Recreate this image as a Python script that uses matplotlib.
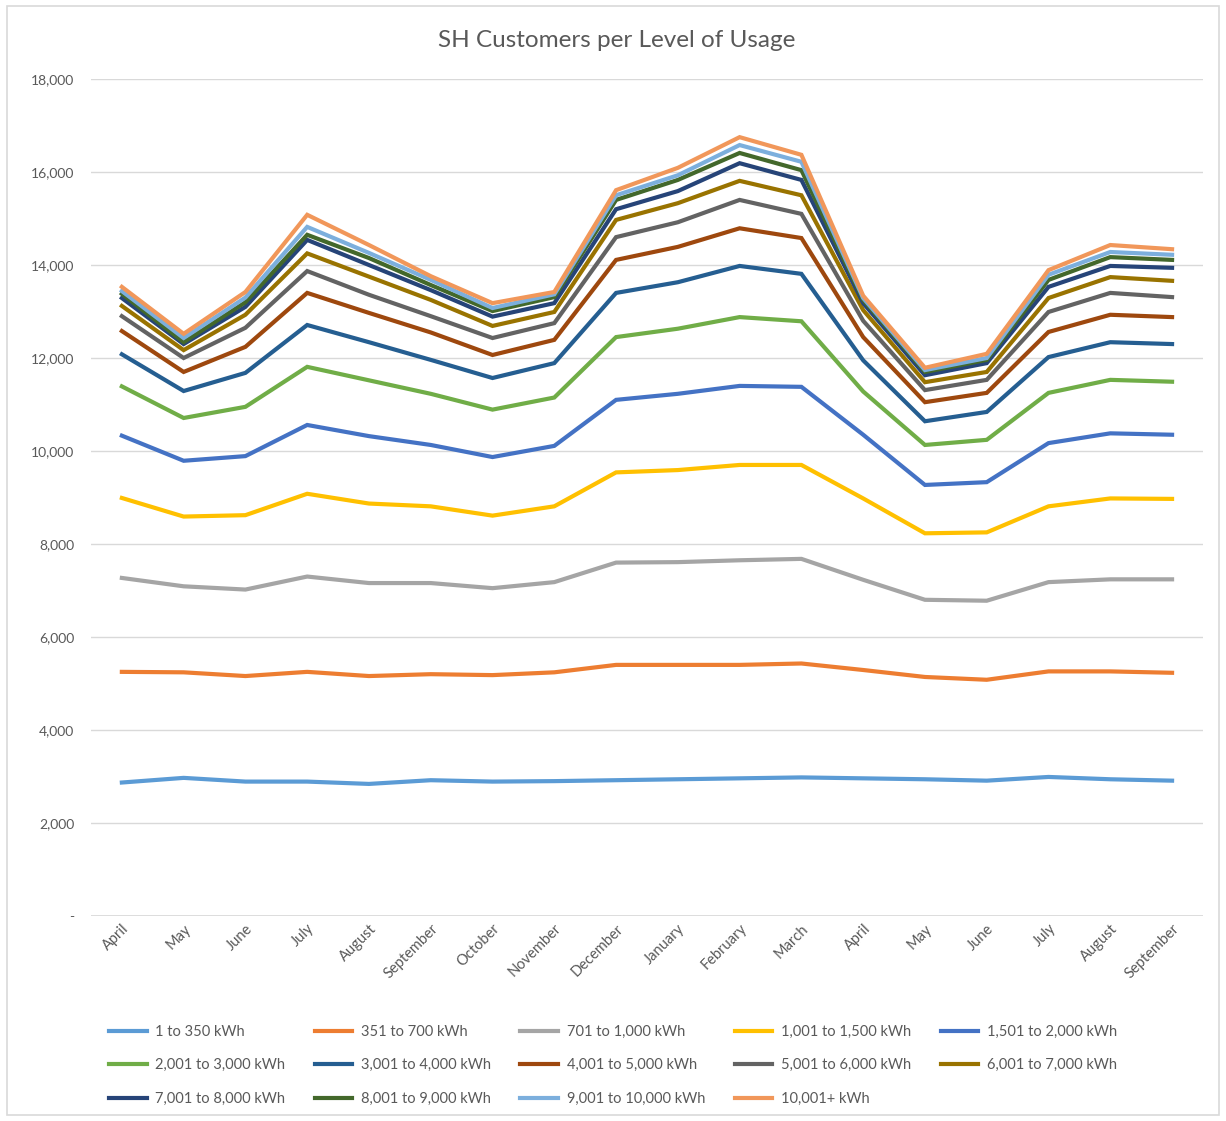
import numpy as np
import matplotlib.pyplot as plt
from matplotlib.patches import Rectangle
from matplotlib.ticker import FuncFormatter

plt.rcParams['font.family'] = ['Lato', 'DejaVu Sans']

months = ['April', 'May', 'June', 'July', 'August', 'September', 'October',
          'November', 'December', 'January', 'February', 'March', 'April',
          'May', 'June', 'July', 'August', 'September']

bands = ['1 to 350 kWh', '351 to 700 kWh', '701 to 1,000 kWh',
         '1,001 to 1,500 kWh', '1,501 to 2,000 kWh', '2,001 to 3,000 kWh',
         '3,001 to 4,000 kWh', '4,001 to 5,000 kWh', '5,001 to 6,000 kWh',
         '6,001 to 7,000 kWh', '7,001 to 8,000 kWh', '8,001 to 9,000 kWh',
         '9,001 to 10,000 kWh', '10,001+ kWh']

# customers in each usage band, per month
b_1_350 = [2870, 2970, 2890, 2890, 2840, 2920, 2890, 2900, 2920, 2940, 2960, 2980, 2960, 2940, 2910, 2990, 2940, 2910]
b_351_700 = [2380, 2270, 2270, 2360, 2320, 2280, 2290, 2340, 2480, 2460, 2440, 2450, 2330, 2200, 2170, 2270, 2320, 2320]
b_701_1000 = [2020, 1850, 1860, 2050, 2000, 1960, 1870, 1940, 2200, 2210, 2250, 2250, 1940, 1660, 1700, 1920, 1980, 2010]
b_1001_1500 = [1720, 1500, 1600, 1780, 1710, 1650, 1560, 1630, 1940, 1980, 2050, 2020, 1750, 1430, 1470, 1630, 1740, 1730]
b_1501_2000 = [1340, 1200, 1270, 1480, 1450, 1320, 1260, 1300, 1560, 1640, 1700, 1680, 1370, 1040, 1080, 1360, 1400, 1380]
b_2001_3000 = [1060, 920, 1060, 1250, 1200, 1100, 1020, 1040, 1350, 1400, 1480, 1410, 930, 860, 910, 1080, 1150, 1140]
b_3001_4000 = [690, 580, 730, 900, 820, 730, 680, 740, 950, 1000, 1100, 1020, 670, 510, 600, 770, 810, 810]
b_4001_5000 = [500, 410, 560, 690, 630, 590, 495, 500, 710, 760, 810, 770, 500, 410, 410, 540, 590, 580]
b_5001_6000 = [320, 300, 410, 470, 390, 350, 365, 360, 490, 530, 610, 520, 350, 260, 280, 430, 470, 430]
b_6001_7000 = [220, 170, 280, 380, 390, 350, 260, 240, 370, 410, 410, 400, 230, 170, 170, 300, 340, 350]
b_7001_8000 = [170, 130, 170, 290, 250, 210, 200, 190, 230, 260, 380, 330, 150, 150, 190, 240, 240, 280]
b_8001_9000 = [90, 40, 100, 110, 150, 110, 120, 130, 200, 240, 220, 210, 70, 70, 70, 150, 190, 170]
b_9001_10000 = [60, 90, 100, 170, 110, 110, 65, 60, 100, 100, 170, 180, 40, 40, 40, 110, 110, 110]
b_10001_up = [90, 90, 120, 260, 170, 80, 105, 50, 110, 160, 170, 150, 50, 50, 90, 100, 150, 120]

series = [b_1_350, b_351_700, b_701_1000, b_1001_1500, b_1501_2000,
          b_2001_3000, b_3001_4000, b_4001_5000, b_5001_6000, b_6001_7000,
          b_7001_8000, b_8001_9000, b_9001_10000, b_10001_up]

colors = ['#5B9BD5', '#ED7D31', '#A5A5A5', '#FFC000', '#4472C4', '#70AD47',
          '#255E91', '#9E480E', '#636363', '#997300', '#264478', '#43682B',
          '#7CAFDD', '#F1975A']

# stacked line chart: each line sits on top of the bands below it
stacked = np.cumsum(np.array(series), axis=0)

fig = plt.figure(figsize=(12.26, 11.21), dpi=100)
ax = fig.add_axes([0.0742, 0.1829, 0.907, 0.7466])

x = np.arange(len(months))
handles = []
for vals, name, c in zip(stacked, bands, colors):
    h, = ax.plot(x, vals, color=c, lw=3.0, label=name, solid_joinstyle='miter')
    handles.append(h)

ax.set_xlim(-0.5, len(months) - 0.5)
ax.set_ylim(0, 18000)
ax.set_yticks(np.arange(0, 18001, 2000))
ax.yaxis.set_major_formatter(FuncFormatter(lambda v, p: '-' if v == 0 else f'{int(v):,}'))
ax.grid(axis='y', color='#D9D9D9', lw=1)
ax.set_axisbelow(True)
for s in ax.spines.values():
    s.set_visible(False)
ax.tick_params(axis='y', length=0, pad=12, labelsize=10, labelcolor='#595959')
ax.tick_params(axis='x', length=0, pad=4, labelsize=10.5, labelcolor='#595959')
ax.set_xticks(x)
ax.set_xticklabels(months, rotation=45, ha='right', va='top', rotation_mode='anchor')
ax.axhline(0, color='#D9D9D9', lw=1.2, zorder=0)

fig.text(0.503, 0.964, 'SH Customers per Level of Usage', ha='center', va='center',
         fontsize=17.5, color='#595959')

# row-major ordering for the 5-column legend
order = [0, 5, 10, 1, 6, 11, 2, 7, 12, 3, 8, 13, 4, 9]
fig.legend([handles[i] for i in order], [bands[i] for i in order],
           loc='lower center', bbox_to_anchor=(0.5, 0.002), ncol=5,
           frameon=False, fontsize=10.5, labelcolor='#595959',
           handlelength=2.6, handletextpad=0.6, columnspacing=2.0,
           labelspacing=1.33)

fig.patches.append(Rectangle((0.006, 0.005), 0.988, 0.99, transform=fig.transFigure,
                             fill=False, edgecolor='#D9D9D9', lw=1.2))

fig.savefig('out.png', dpi=100, facecolor='white')
